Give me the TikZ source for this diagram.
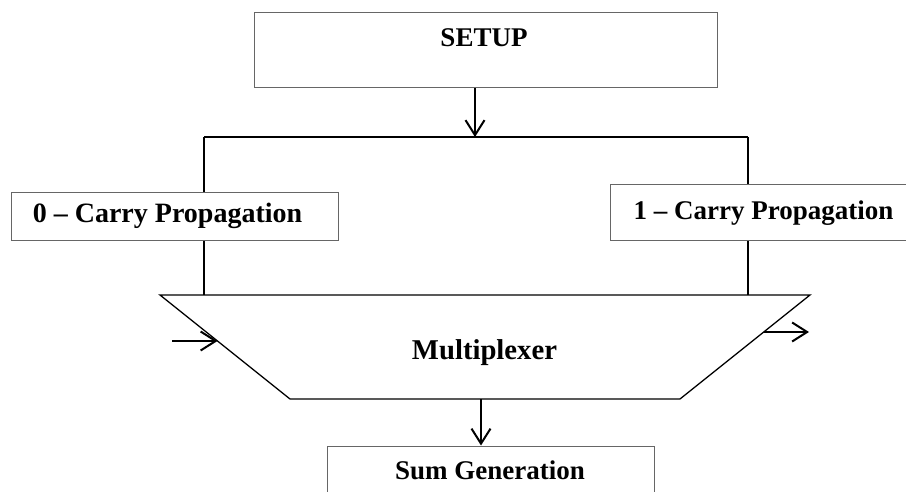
\documentclass[tikz,border=0pt]{standalone}
\usepackage{fontspec}
\setmainfont{Liberation Serif}
\usetikzlibrary{arrows.meta}
\tikzset{
  x=1pt, y=-1pt,
  box/.style={draw=black!60, line width=1pt, fill=white, rectangle, inner sep=0pt},
  lbl/.style={anchor=base, inner sep=0pt, font=\bfseries\fontsize{27}{30}\selectfont},
  wire/.style={draw=black, line width=2pt},
  flow/.style={wire, -{Straight Barb[length=15pt,width=19pt,line width=2pt]}},
}
\begin{document}
\begin{tikzpicture}
\useasboundingbox (0,0) rectangle (906,492);
\clip (0,0) rectangle (906,492);
\fill[white] (0,0) rectangle (906,492);

% setup stage
\node[box, minimum width=463pt, minimum height=75pt] (setup) at (485.5,50.5) {};
\node[lbl] (setupt) at (484,47) {SETUP};

% branching bus
\coordinate (j)  at (475,137);
\coordinate (jl) at (204,137);
\coordinate (jr) at (748,137);
\draw[flow] (setup.south -| j) -- (j);
\draw[wire, line width=2.2pt] (jl) -- (jr);

% carry propagation branches
\node[box, minimum width=327pt, minimum height=48pt] (c0) at (174.5,217) {};
\node[lbl, font=\bfseries\fontsize{28}{30}\selectfont] (c0t) at (167.5,223) {0 -- Carry Propagation};
\node[box, minimum width=320pt, minimum height=56pt] (c1) at (770,213) {};
\node[lbl] (c1t) at (763.5,220) {1 -- Carry Propagation};

% multiplexer trapezium
\coordinate (mtl) at (160,295);
\coordinate (mtr) at (810,295);
\coordinate (mbr) at (680,399);
\coordinate (mbl) at (290,399);
\draw[black, line width=1.3pt, fill=white] (mtl) -- (mtr) -- (mbr) -- (mbl) -- cycle;
\node[lbl, font=\bfseries\fontsize{28.7}{30}\selectfont] (mux) at (484.5,359) {Multiplexer};

\draw[wire] (jl) -- (c0.north -| jl);
\draw[wire] (c0.south -| jl) -- (mtl -| jl);
\draw[wire] (jr) -- (c1.north -| jr);
\draw[wire] (c1.south -| jr) -- (mtl -| jr);

% side input and output
\coordinate (min)  at (172,341);
\coordinate (minp) at (217.5,341);
\coordinate (mout) at (763.5,332);
\coordinate (moute) at (809,332);
\draw[flow] (min) -- (minp);
\draw[flow] (mout) -- (moute);

% sum generation
\node[box, minimum width=327pt, minimum height=60pt] (sum) at (490.5,476) {};
\node[lbl] (sumt) at (490,479) {Sum Generation};
\coordinate (sx) at (481,0);
\draw[flow] (mbl -| sx) -- (sum.north -| sx);
\end{tikzpicture}
\end{document}
